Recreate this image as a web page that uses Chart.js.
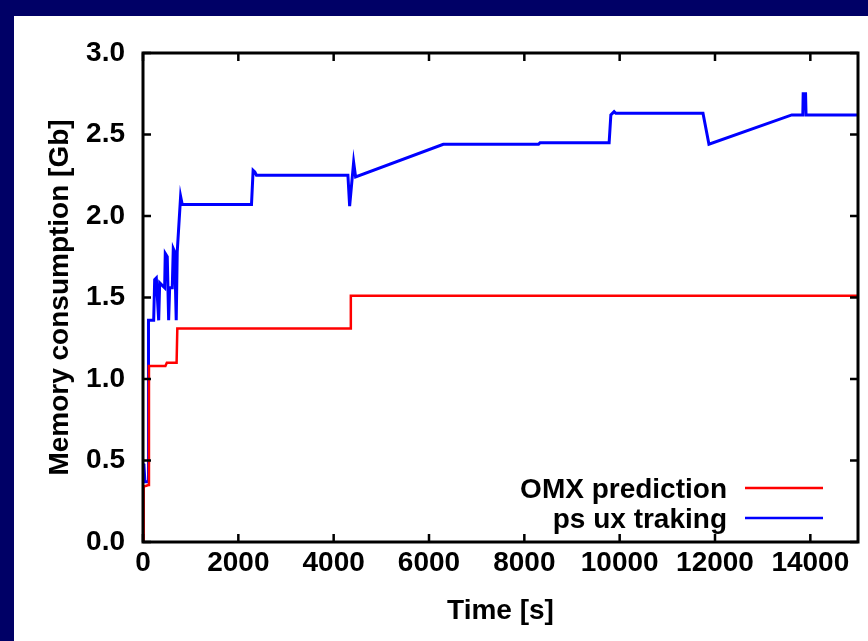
<!DOCTYPE html>
<html>
<head>
<meta charset="utf-8">
<script src="https://cdn.jsdelivr.net/npm/chart.js@4.4.0/dist/chart.umd.min.js"></script>
<style>
  html, body { margin: 0; padding: 0; background: #000066; width: 868px; height: 641px; overflow: hidden; }
  #panel { position: absolute; left: 14px; top: 16px; width: 854px; height: 625px; background: #fff; }
</style>
</head>
<body>
<div id="panel"><canvas id="memChart" width="854" height="625"></canvas></div>
<script>
const xTicks = [0, 2000, 4000, 6000, 8000, 10000, 12000, 14000];
const yTicks = [0, 0.5, 1.0, 1.5, 2.0, 2.5, 3.0];

// OMX prediction (step curve)
const redTime = [0, 15, 115, 125, 470, 500, 705, 720, 4345, 4360, 15000];
const redMem  = [0, 0.34, 0.35, 1.08, 1.08, 1.10, 1.10, 1.31, 1.31, 1.51, 1.51];

// ps ux traking
const blueTime = [0, 20, 40, 105, 115, 224, 245, 279, 329, 350, 454, 467, 509, 538, 559, 614, 635, 664, 697, 718,
                  789, 823, 2276, 2310, 2345, 2380, 4299, 4335, 4419, 4460, 6300, 8298, 8330, 9779, 9815, 9884,
                  9920, 11748, 11873, 13611, 13842, 13850, 13900, 13910, 15000];
const blueMem  = [0.48, 0.47, 0.37, 0.37, 1.36, 1.36, 1.61, 1.62, 1.36, 1.59, 1.56, 1.77, 1.75, 1.36, 1.56, 1.56, 1.80, 1.78, 1.36, 1.78,
                  2.12, 2.07, 2.07, 2.28, 2.27, 2.25, 2.25, 2.06, 2.33, 2.24, 2.44, 2.44, 2.45, 2.45, 2.62, 2.64,
                  2.63, 2.63, 2.44, 2.62, 2.62, 2.75, 2.75, 2.62, 2.62];

const toPoints = (xs, ys) => xs.map((x, i) => ({ x: x, y: ys[i] }));

const labelFont = { family: '"Liberation Sans", Arial, sans-serif', size: 28, weight: 'bold' };

// gnuplot style box with inward ticks on all four sides
const framePlugin = {
    id: 'frame',
    afterDatasetsDraw(chart) {
        const { ctx, chartArea: a, scales } = chart;
        const len = 8;
        ctx.save();
        ctx.strokeStyle = '#000';
        ctx.lineWidth = 2.5;
        ctx.beginPath();
        scales.x.ticks.forEach(t => {
            const px = scales.x.getPixelForValue(t.value);
            ctx.moveTo(px, a.bottom); ctx.lineTo(px, a.bottom - len);
            ctx.moveTo(px, a.top); ctx.lineTo(px, a.top + len);
        });
        scales.y.ticks.forEach(t => {
            const py = scales.y.getPixelForValue(t.value);
            ctx.moveTo(a.left, py); ctx.lineTo(a.left + len, py);
            ctx.moveTo(a.right, py); ctx.lineTo(a.right - len, py);
        });
        ctx.stroke();
        ctx.lineWidth = 3;
        ctx.strokeRect(a.left, a.top, a.right - a.left, a.bottom - a.top);
        ctx.restore();
    }
};

// legend inside the plot, text on the left of the line sample
const keyPlugin = {
    id: 'key',
    afterDraw(chart) {
        const { ctx, chartArea: a } = chart;
        ctx.save();
        ctx.font = 'bold 28px "Liberation Sans", Arial, sans-serif';
        ctx.textAlign = 'right';
        ctx.textBaseline = 'middle';
        chart.data.datasets.forEach((ds, i) => {
            const y = a.bottom - 54 + i * 30;
            ctx.fillStyle = '#000';
            ctx.fillText(ds.label, a.right - 131, y + 2);
            ctx.strokeStyle = ds.borderColor;
            ctx.lineWidth = 2.5;
            ctx.beginPath();
            ctx.moveTo(a.right - 113, y);
            ctx.lineTo(a.right - 35, y);
            ctx.stroke();
        });
        ctx.restore();
    }
};

new Chart(document.getElementById('memChart').getContext('2d'), {
    type: 'line',
    data: {
        datasets: [
            {
                label: 'OMX prediction',
                data: toPoints(redTime, redMem),
                borderColor: '#ff0000',
                borderWidth: 2.5,
                pointRadius: 0,
                tension: 0,
            },
            {
                label: 'ps ux traking',
                data: toPoints(blueTime, blueMem),
                borderColor: '#0000ff',
                borderWidth: 3,
                pointRadius: 0,
                tension: 0,
            },
        ]
    },
    options: {
        responsive: false,
        animation: false,
        layout: { padding: { top: 37, right: 10, left: 0, bottom: 0 } },
        plugins: { legend: { display: false }, tooltip: { enabled: false } },
        scales: {
            x: {
                type: 'linear',
                min: 0,
                max: 15000,
                afterBuildTicks: s => { s.ticks = xTicks.map(v => ({ value: v })); },
                afterFit: s => { s.height = 99; },
                grid: { display: false, drawTicks: false },
                border: { display: false },
                ticks: { font: labelFont, color: '#000', padding: 4, maxRotation: 0, autoSkip: false, callback: v => String(v) },
                title: { display: true, text: 'Time [s]', font: labelFont, color: '#000', padding: { top: 0, bottom: 13 } }
            },
            y: {
                type: 'linear',
                min: 0,
                max: 3,
                afterBuildTicks: s => { s.ticks = yTicks.map(v => ({ value: v })); },
                afterFit: s => { s.width = 129; },
                grid: { display: false, drawTicks: false },
                border: { display: false },
                ticks: { font: labelFont, color: '#000', padding: 18, callback: v => Number(v).toFixed(1) },
                title: { display: true, text: 'Memory consumption [Gb]', font: labelFont, color: '#000', padding: { top: 29, bottom: 0 } }
            }
        }
    },
    plugins: [framePlugin, keyPlugin]
});
</script>
</body>
</html>
